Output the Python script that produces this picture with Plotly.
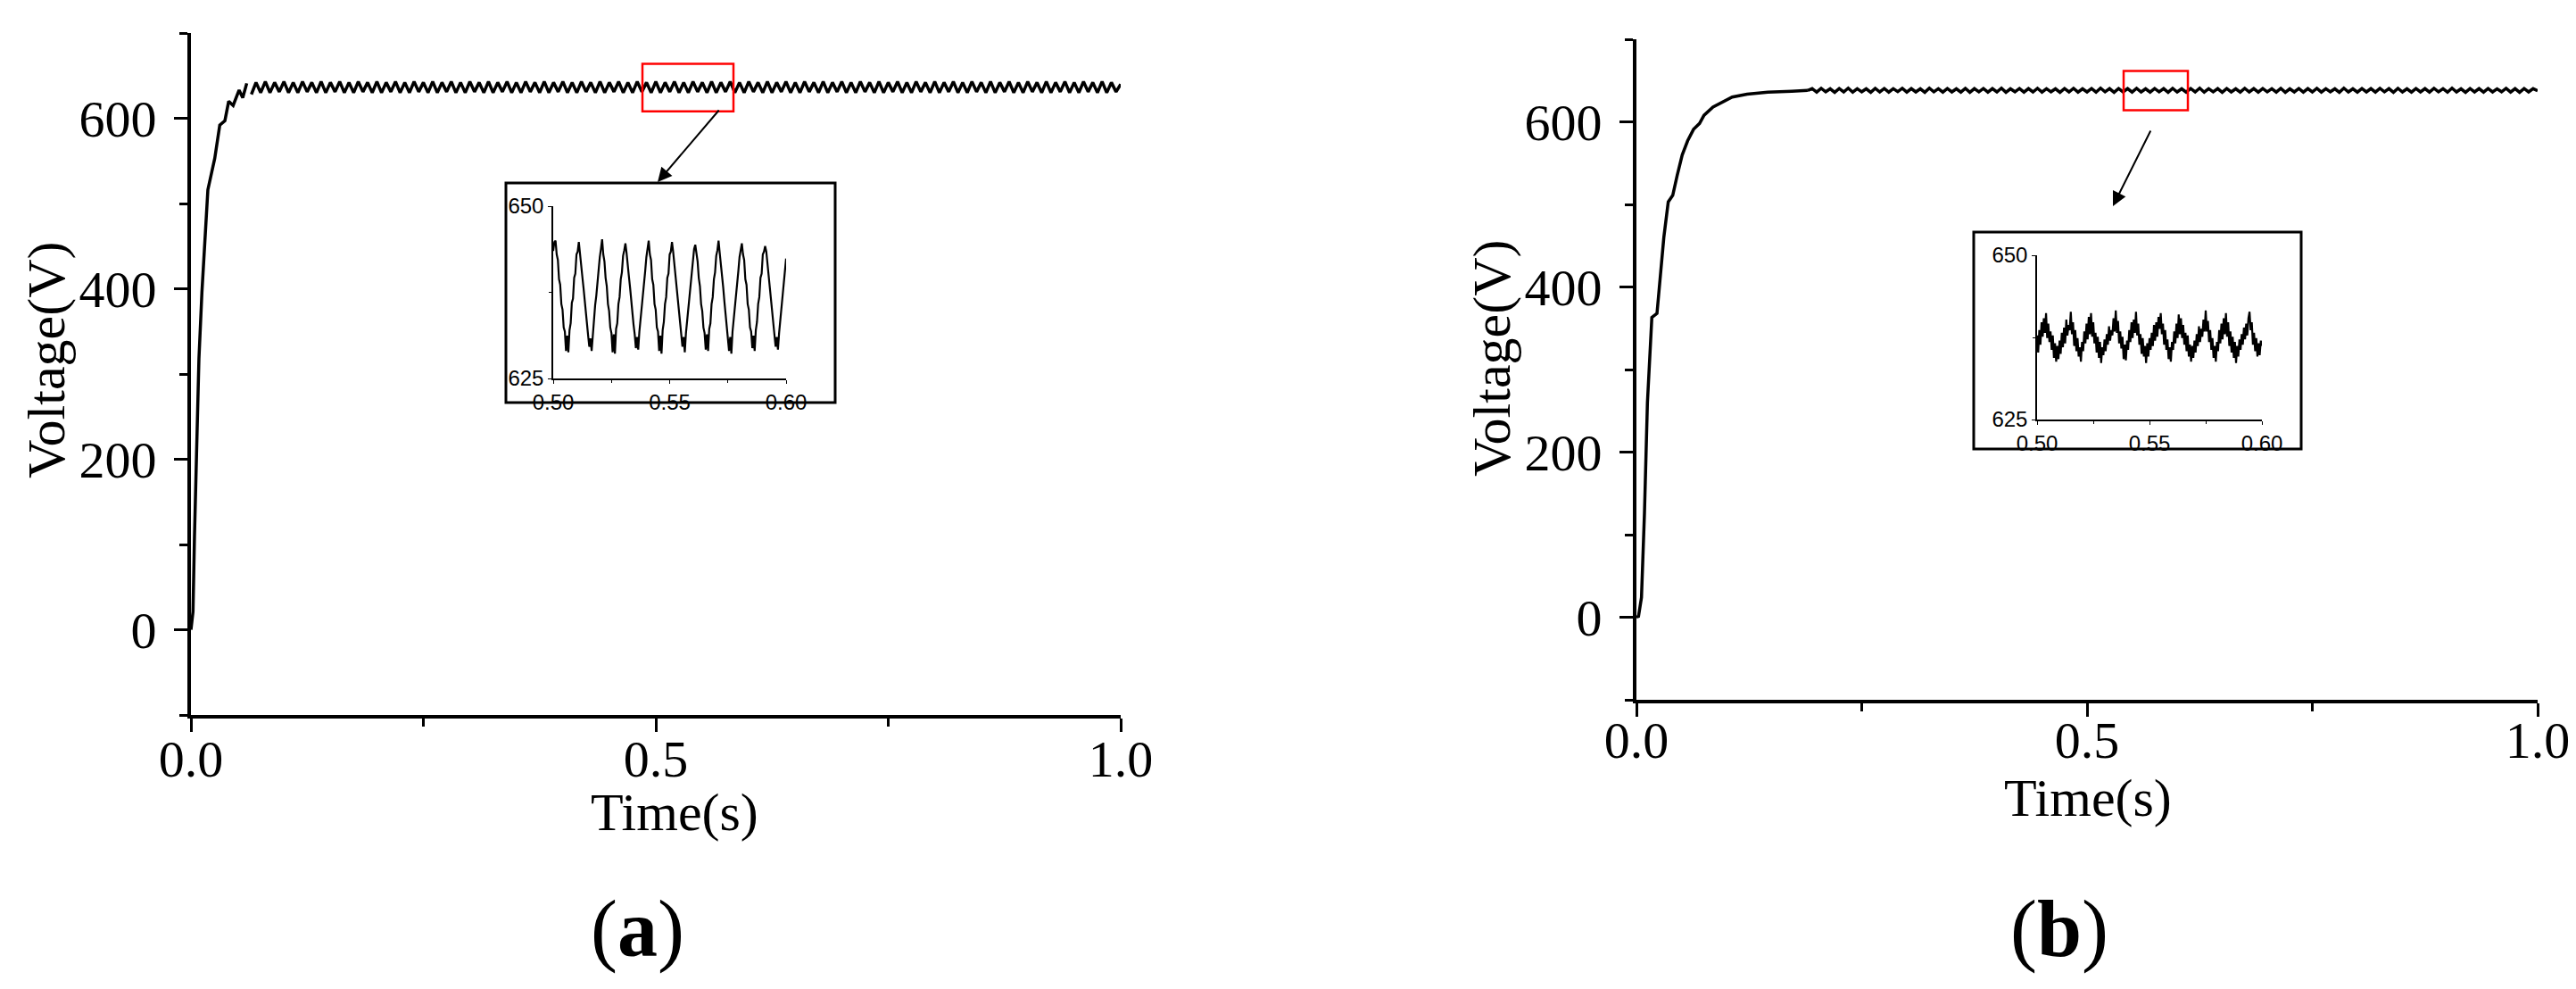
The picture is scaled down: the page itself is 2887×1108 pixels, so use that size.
import plotly.graph_objects as go

# ---------------------------------------------------------------
# data (time in s, voltage in V)
# ---------------------------------------------------------------

# (a) start-up transient
time_a_start = [0.0, 0.0022, 0.0038, 0.0055, 0.0086, 0.0118, 0.015, 0.0182,
                0.0224, 0.0256, 0.031, 0.0365, 0.0406, 0.0454, 0.0518,
                0.0557, 0.06]
volt_a_start = [0, 21, 110, 188, 318, 396, 458, 516, 537, 553, 592, 597,
                620, 615, 633, 624, 641]

# (a) steady state, one sample every 5 ms starting at 0.065 s
steady_a_t0 = 0.065
steady_a_dt = 0.005
volt_a_steady = [
    628, 642, 630, 643, 630, 642, 631, 643, 630, 642,
    630, 643, 631, 642, 630, 643, 630, 642, 631, 643,
    630, 642, 630, 643, 631, 642, 630, 643, 630, 642,
    631, 643, 630, 642, 630, 643, 631, 642, 630, 643,
    630, 642, 631, 643, 630, 642, 630, 643, 631, 642,
    630, 643, 630, 642, 631, 643, 630, 642, 630, 643,
    631, 642, 630, 643, 630, 642, 631, 643, 630, 642,
    630, 643, 631, 642, 630, 643, 630, 642, 631, 643,
    630, 642, 630, 643, 631, 642, 630, 643, 630, 642,
    631, 643, 630, 642, 630, 643, 631, 642, 630, 643,
    630, 642, 631, 643, 630, 642, 630, 643, 631, 642,
    630, 643, 630, 642, 631, 643, 630, 642, 630, 643,
    631, 642, 630, 643, 630, 642, 631, 643, 630, 642,
    630, 643, 631, 642, 630, 643, 630, 642, 631, 643,
    630, 642, 630, 643, 631, 642, 630, 643, 630, 642,
    631, 643, 630, 642, 630, 643, 631, 642, 630, 643,
    630, 642, 631, 643, 630, 642, 630, 643, 631, 642,
    630, 643, 630, 642, 631, 643, 630, 642, 630, 643,
    631, 642, 630, 643, 630, 642, 631, 640,
]

# (b) start-up transient
time_b_start = [0.0, 0.0023, 0.0056, 0.0089, 0.0122, 0.0155, 0.0171, 0.0228,
                0.0254, 0.0304, 0.0353, 0.0403, 0.0452, 0.0508, 0.0568,
                0.0634, 0.07, 0.075, 0.0849, 0.0964, 0.1063, 0.1228, 0.1458,
                0.1723, 0.19]
volt_b_start = [0, 1, 24, 126, 260, 342, 363, 368, 400, 460, 503, 511, 535,
                560, 577, 591, 598, 608, 618, 625, 630, 633.5, 636, 637, 638]

# (b) steady state, one sample every 5 ms starting at 0.19 s
steady_b_t0 = 0.19
steady_b_dt = 0.005
volt_b_steady = [
    638.0,
    640.2, 636.0, 640.6, 636.4, 640.0, 635.8, 640.4, 636.2, 640.8, 636.0,
    640.2, 636.4, 640.0, 635.8, 640.6, 636.2, 640.4, 636.0, 640.2, 636.6,
    640.6, 636.0, 640.2, 636.2, 640.0, 635.8, 640.8, 636.4, 640.2, 636.0,
    640.4, 636.2, 640.0, 636.0, 640.6, 635.8, 640.2, 636.4, 640.4, 636.0,
    640.2, 636.2, 640.8, 635.8, 640.0, 636.4, 640.4, 636.0, 640.2, 636.2,
    640.6, 636.0, 640.2, 636.4, 640.0, 635.8, 640.4, 636.2, 640.6, 636.0,
    640.0, 636.2, 640.4, 636.0, 640.8, 636.4, 640.2, 635.8, 640.4, 636.2,
    640.2, 636.0, 640.6, 636.2, 640.0, 636.0, 640.4, 636.4, 640.2, 635.8,
    640.6, 636.2, 640.0, 636.0, 640.4, 636.2, 640.8, 636.0, 640.2, 636.4,
    640.2, 635.8, 640.4, 636.2, 640.0, 636.0, 640.6, 636.2, 640.2, 636.0,
    640.4, 636.4, 640.2, 636.0, 640.6, 635.8, 640.0, 636.2, 640.4, 636.0,
    640.2, 636.2, 640.6, 636.0, 640.2, 636.4, 640.0, 635.8, 640.8, 636.2,
    640.0, 636.0, 640.4, 636.2, 640.2, 636.0, 640.6, 636.4, 640.2, 635.8,
    640.6, 636.2, 640.0, 636.0, 640.4, 636.2, 640.2, 636.0, 640.6, 636.4,
    640.2, 636.0, 640.8, 636.2, 640.0, 635.8, 640.4, 636.2, 640.2, 636.0,
    640.4, 636.2, 640.0, 636.4, 640.6, 636.0, 640.2, 635.8, 640.4, 636.2,
    640.2, 637.6,
]

# zoomed insets, 0.50 s .. 0.60 s, one sample every 0.5 ms
inset_t0 = 0.5
inset_dt = 0.0005
inset_a_volt = [
    643.5, 644.8,
    645.0, 643.0, 642.2, 639.4, 638.6, 635.8, 635.0, 632.4, 631.8, 629.0,
    631.2, 628.8, 632.0, 633.0, 636.0, 636.6, 639.6, 640.2, 643.0, 643.4,
    644.8, 643.4, 641.8, 639.8, 638.2, 636.2, 634.6, 632.8, 631.2, 629.6,
    630.8, 629.0, 631.6, 633.4, 635.6, 637.0, 639.2, 640.6, 642.6, 643.8,
    645.2, 643.0, 642.0, 639.6, 638.4, 635.8, 634.8, 632.4, 631.6, 628.8,
    631.4, 628.6, 632.2, 633.0, 635.8, 636.8, 639.4, 640.4, 642.8, 643.6,
    644.6, 643.2, 641.8, 639.8, 638.2, 636.2, 634.6, 632.8, 631.4, 629.4,
    631.0, 629.2, 631.8, 633.4, 635.6, 637.0, 639.0, 640.6, 642.6, 643.8,
    645.0, 643.0, 642.2, 639.4, 638.6, 635.8, 635.0, 632.4, 631.8, 629.0,
    631.2, 628.6, 632.0, 633.2, 635.8, 636.8, 639.6, 640.2, 643.0, 643.4,
    644.8, 643.4, 641.6, 639.8, 638.2, 636.2, 634.6, 632.8, 631.2, 629.6,
    631.0, 628.8, 631.6, 633.4, 635.6, 637.0, 639.2, 640.6, 642.6, 643.8,
    644.4, 643.0, 642.0, 639.6, 638.4, 635.8, 634.8, 632.4, 631.6, 629.2,
    631.4, 629.0, 632.2, 633.0, 635.8, 636.8, 639.4, 640.4, 642.8, 643.6,
    645.0, 643.2, 641.8, 639.8, 638.2, 636.2, 634.6, 632.8, 631.4, 629.0,
    631.0, 628.6, 631.8, 633.4, 635.6, 637.0, 639.0, 640.6, 642.6, 643.8,
    644.6, 643.0, 642.2, 639.4, 638.6, 635.8, 635.0, 632.4, 631.8, 629.4,
    631.2, 629.0, 632.0, 633.2, 635.8, 636.8, 639.6, 640.2, 643.0, 643.4,
    644.2, 643.4, 641.6, 639.8, 638.2, 636.2, 634.6, 632.8, 631.2, 629.6,
    631.0, 629.2, 631.6, 633.4, 635.6, 637.0, 639.2, 640.6, 642.4,
]
inset_b_volt = [
    637.8, 635.2, 638.6, 636.4, 639.8, 637.6, 640.4, 638.2, 641.2, 637.4,
    639.6, 636.8, 638.4, 635.6, 637.8, 634.4, 636.6, 633.8, 636.2, 634.2,
    637.0, 635.0, 638.2, 636.0, 639.0, 636.6, 640.2, 637.8, 639.4, 638.6,
    641.4, 638.0, 639.8, 636.2, 638.6, 635.4, 637.4, 634.6, 636.0, 633.8,
    636.8, 635.4, 638.4, 636.6, 639.6, 637.2, 640.6, 638.0, 641.2, 637.6,
    639.8, 636.6, 638.2, 635.2, 637.6, 634.4, 636.8, 633.6, 636.0, 634.8,
    637.2, 635.4, 638.0, 636.4, 639.2, 637.0, 638.6, 637.8, 640.4, 638.4,
    641.6, 638.2, 640.0, 636.6, 638.4, 635.8, 637.6, 634.2, 636.4, 634.0,
    637.0, 635.6, 638.6, 636.8, 639.8, 637.4, 640.2, 638.2, 641.4, 637.8,
    639.6, 636.4, 638.0, 635.0, 637.4, 634.6, 636.2, 633.6, 636.6, 634.6,
    637.4, 635.6, 638.2, 636.2, 639.4, 637.0, 639.8, 637.6, 640.6, 638.8,
    641.2, 638.0, 639.6, 636.4, 638.6, 635.6, 637.2, 634.2, 636.0, 633.8,
    636.8, 635.6, 638.4, 636.6, 639.6, 637.4, 641.0, 638.0, 640.4, 637.4,
    639.4, 636.4, 638.2, 635.4, 637.8, 634.6, 636.4, 633.8, 636.2, 634.4,
    637.0, 635.2, 638.0, 636.2, 639.2, 636.8, 638.8, 637.6, 640.2, 638.4,
    641.6, 638.4, 640.0, 636.8, 638.6, 635.6, 637.4, 634.4, 636.2, 633.8,
    636.8, 635.4, 638.6, 636.6, 639.6, 637.2, 640.4, 638.0, 641.2, 637.6,
    639.8, 636.2, 638.4, 635.2, 637.6, 634.4, 636.8, 633.6, 636.2, 634.6,
    637.2, 635.6, 638.0, 636.4, 639.0, 637.2, 639.6, 637.8, 640.4, 641.4,
    638.6, 639.8, 636.4, 638.2, 635.4, 637.4, 634.6, 636.6, 634.8, 637.0,
    636.2,
]

# ---------------------------------------------------------------
# page geometry (pixels of the 2887 x 1108 page)
# ---------------------------------------------------------------
W, H = 2887, 1108
SERIF = "Liberation Serif, Times New Roman, serif"
SANS = "Liberation Sans, Arial, sans-serif"


def px(x):
    return x / W


def py(y):
    return 1 - y / H


def main_axes(dtick, tick0, rng, fmt, minor_dtick, standoff):
    return dict(
        range=rng, dtick=dtick, tick0=tick0, tickformat=fmt,
        showline=True, linewidth=4, linecolor='black',
        ticks='outside', ticklen=15, tickwidth=3, tickcolor='black',
        ticklabelstandoff=standoff,
        minor=dict(dtick=minor_dtick, ticks='outside', ticklen=9,
                   tickwidth=3, tickcolor='black'),
        showgrid=False, zeroline=False, fixedrange=True,
        tickfont=dict(family=SERIF, size=58, color='black'),
    )


def inset_axes(rng, tickvals, fmt, minor_vals):
    return dict(
        range=rng, tickvals=tickvals, tickformat=fmt,
        showline=True, linewidth=1.5, linecolor='black',
        ticks='outside', ticklen=4, tickwidth=1.2, tickcolor='black',
        minor=dict(tickvals=minor_vals, ticks='outside', ticklen=3,
                   tickwidth=1.2, tickcolor='black'),
        showgrid=False, zeroline=False, fixedrange=True,
        tickfont=dict(family=SANS, size=24, color='black'),
    )


fig = go.Figure()

line_main = dict(color='black', width=3.5)
line_inset = dict(color='black', width=2.2)

# (a)
fig.add_trace(go.Scatter(x=time_a_start, y=volt_a_start, mode='lines',
                         line=line_main, xaxis='x', yaxis='y'))
fig.add_trace(go.Scatter(x0=steady_a_t0, dx=steady_a_dt, y=volt_a_steady,
                         mode='lines', line=line_main, xaxis='x', yaxis='y'))
# (b)
fig.add_trace(go.Scatter(x=time_b_start, y=volt_b_start, mode='lines',
                         line=line_main, xaxis='x2', yaxis='y2'))
fig.add_trace(go.Scatter(x0=steady_b_t0, dx=steady_b_dt, y=volt_b_steady,
                         mode='lines', line=line_main,
                         xaxis='x2', yaxis='y2'))
# insets
fig.add_trace(go.Scatter(x0=inset_t0, dx=inset_dt, y=inset_a_volt,
                         mode='lines', line=line_inset, xaxis='x3', yaxis='y3'))
fig.add_trace(go.Scatter(x0=inset_t0, dx=inset_dt, y=inset_b_volt,
                         mode='lines', line=line_inset, xaxis='x4', yaxis='y4'))

fig.update_layout(
    width=W, height=H,
    margin=dict(l=0, r=0, t=0, b=0, autoexpand=False),
    paper_bgcolor='white', plot_bgcolor='rgba(0,0,0,0)',
    showlegend=False,
    xaxis=dict(domain=[px(206), px(1248)], anchor='y',
               **main_axes(0.5, 0, [0, 1], '.1f', 0.25, -20)),
    yaxis=dict(domain=[py(793), py(29)], anchor='x',
               **main_axes(200, 0, [-100, 700], 'd', 100, 8)),
    xaxis2=dict(domain=[px(1826), px(2836)], anchor='y2',
                **main_axes(0.5, 0, [0, 1], '.1f', 0.25, -24)),
    yaxis2=dict(domain=[py(776), py(36)], anchor='x2',
                **main_axes(200, 0, [-100, 700], 'd', 100, 8)),
    xaxis3=dict(domain=[px(612), px(873)], anchor='y3',
                **inset_axes([0.5, 0.6], [0.5, 0.55, 0.6], '.2f',
                             [0.525, 0.575])),
    yaxis3=dict(domain=[py(416), py(223)], anchor='x3',
                **inset_axes([625, 650], [625, 650], 'd', [637.5])),
    xaxis4=dict(domain=[px(2275), px(2527)], anchor='y4',
                **inset_axes([0.5, 0.6], [0.5, 0.55, 0.6], '.2f',
                             [0.525, 0.575])),
    yaxis4=dict(domain=[py(462), py(278)], anchor='x4',
                **inset_axes([625, 650], [625, 650], 'd', [637.5])),
)

# frames round the insets and red boxes marking the zoomed window
fig.add_shape(type='rect', xref='paper', yref='paper',
              x0=px(559), x1=px(928), y0=py(443), y1=py(197),
              line=dict(color='black', width=3))
fig.add_shape(type='rect', xref='paper', yref='paper',
              x0=px(2204), x1=px(2571), y0=py(495), y1=py(252),
              line=dict(color='black', width=3))
fig.add_shape(type='rect', xref='x', yref='y',
              x0=0.4856, x1=0.5835, y0=608, y1=664,
              line=dict(color='#FF0000', width=2.5))
fig.add_shape(type='rect', xref='x2', yref='y2',
              x0=0.5406, x1=0.6119, y0=614, y1=661.6,
              line=dict(color='#FF0000', width=2.5))

# arrows from the red boxes to the insets (tail offset in screen pixels)
for tail, tip in [((799, 114), (729, 196)), ((2403, 137), (2360, 223))]:
    fig.add_annotation(
        x=px(tip[0]), y=py(tip[1]), xref='paper', yref='paper',
        ax=tail[0] - tip[0], ay=tail[1] - tip[1],
        axref='pixel', ayref='pixel',
        text='', showarrow=True, arrowhead=2, arrowsize=1.6,
        arrowwidth=2, arrowcolor='black',
    )

# axis titles and panel labels
title_font = dict(family=SERIF, size=60, color='black')
for x, y, text in [(44, 395, 'Voltage(V)'), (1664, 393, 'Voltage(V)')]:
    fig.add_annotation(x=px(x), y=py(y), xref='paper', yref='paper',
                       text=text, textangle=-90, showarrow=False,
                       xanchor='center', yanchor='middle', font=title_font)
for x, y, text in [(748, 902, 'Time(s)'), (2332, 886, 'Time(s)')]:
    fig.add_annotation(x=px(x), y=py(y), xref='paper', yref='paper',
                       text=text, showarrow=False,
                       xanchor='center', yanchor='middle', font=title_font)
for x, text in [(706, '(<b>a</b>)'), (2300, '(<b>b</b>)')]:
    fig.add_annotation(x=px(x), y=py(1033), xref='paper', yref='paper',
                       text=text, showarrow=False,
                       xanchor='center', yanchor='middle',
                       font=dict(family=SERIF, size=90, color='black'))

fig.write_html("out.html")
